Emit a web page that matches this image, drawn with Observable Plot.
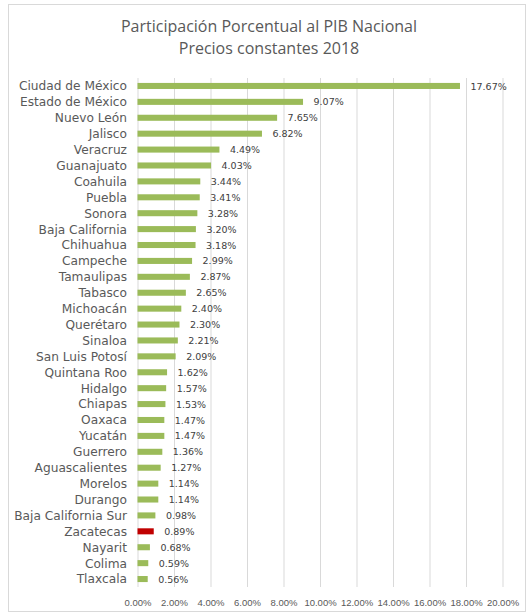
<!DOCTYPE html>
<html><head><meta charset="utf-8">
<script src="https://cdn.jsdelivr.net/npm/d3@7"></script>
<script src="https://cdn.jsdelivr.net/npm/@observablehq/plot@0.6"></script>
<style>
body{margin:0;background:#fff;}
#frame{position:absolute;left:8px;top:4px;width:518px;height:608px;border:1px solid #d9d9d9;box-sizing:border-box;}
#title{position:absolute;left:5px;top:15px;width:528px;text-align:center;font-family:"Open Sans";font-size:16px;line-height:22px;color:#595959;}
#chart{position:absolute;left:0;top:66px;line-height:0;}
#chart svg{display:block;}
</style></head>
<body>
<div id="frame"></div>
<div id="title">Participación Porcentual al PIB Nacional<br>Precios constantes 2018</div>
<div id="chart"></div>
<script>
const states = ["Ciudad de México","Estado de México","Nuevo León","Jalisco","Veracruz","Guanajuato","Coahuila","Puebla","Sonora","Baja California","Chihuahua","Campeche","Tamaulipas","Tabasco","Michoacán","Querétaro","Sinaloa","San Luis Potosí","Quintana Roo","Hidalgo","Chiapas","Oaxaca","Yucatán","Guerrero","Aguascalientes","Morelos","Durango","Baja California Sur","Zacatecas","Nayarit","Colima","Tlaxcala"];
const values = [17.67,9.07,7.65,6.82,4.49,4.03,3.44,3.41,3.28,3.20,3.18,2.99,2.87,2.65,2.40,2.30,2.21,2.09,1.62,1.57,1.53,1.47,1.47,1.36,1.27,1.14,1.14,0.98,0.89,0.68,0.59,0.56];
const highlight = "Zacatecas";
const xTicks = [0,2,4,6,8,10,12,14,16,18,20];

const data = states.map((s, i) => ({state: s, value: values[i]}));
const pct = d => d.toFixed(2) + "%";

const chart = Plot.plot({
  width: 528, height: 546,
  marginTop: 12, marginBottom: 25, marginLeft: 137.5, marginRight: 25.5,
  style: {background: "transparent"},
  x: {domain: [0, 20], label: null},
  y: {domain: states, paddingInner: 0.62, paddingOuter: 0.31, round: false, label: null},
  marks: [
    Plot.ruleX(xTicks, {stroke: "#d9d9d9", strokeWidth: 1}),
    Plot.barX(data.filter(d => d.state !== highlight), {x: "value", y: "state", fill: "#9BBB59"}),
    Plot.barX(data.filter(d => d.state === highlight), {x: "value", y: "state", fill: "#C00000"}),
    Plot.text(data, {x: "value", y: "state", text: d => pct(d.value), textAnchor: "start", dx: 10, fill: "#404040", fontSize: 9.5, fontFamily: "DejaVu Sans"}),
    Plot.axisX({ticks: xTicks, tickFormat: pct, tickSize: 0, tickPadding: 12, fontSize: 9.5, fontFamily: "Liberation Sans", fill: "#595959"}),
    Plot.axisY({tickSize: 0, tickPadding: 11, fontSize: 12.2, fontFamily: "DejaVu Sans", fill: "#595959"})
  ]
});
document.getElementById("chart").appendChild(chart);
</script>
</body></html>
